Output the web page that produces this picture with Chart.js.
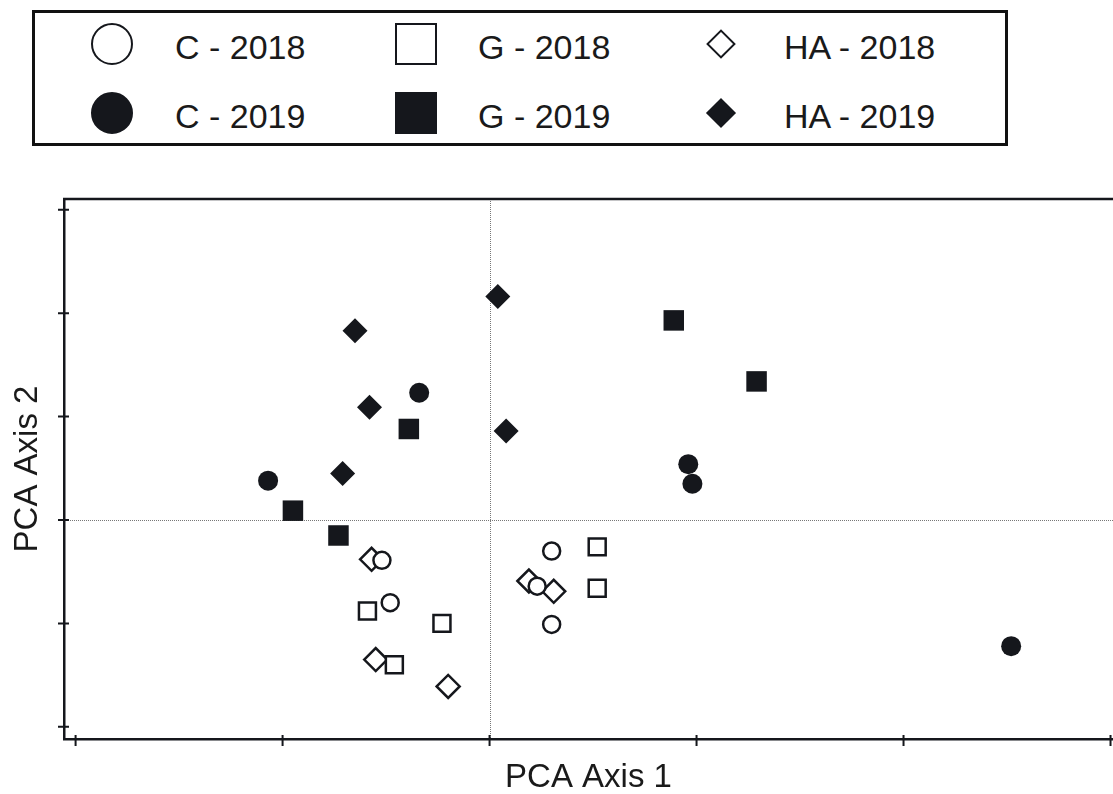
<!DOCTYPE html>
<html>
<head>
<meta charset="utf-8">
<script src="https://cdn.jsdelivr.net/npm/chart.js@4.4.1/dist/chart.umd.min.js"></script>
<style>
  html, body { margin: 0; padding: 0; overflow: hidden; background: #fff; font-family: "Liberation Sans", Arial, sans-serif; }
  #wrap { position: relative; width: 1113px; height: 794px; overflow: hidden; }
  #legend {
    position: absolute; left: 32px; top: 10px; width: 976px; height: 136px;
    box-sizing: border-box; border: 3px solid #111; background: #fff;
  }
  .label { position: absolute; font-size: 34px; line-height: 34px; color: #1a1a1a; white-space: nowrap; transform: translateY(-50%); }
  .mk { position: absolute; box-sizing: border-box; transform: translate(-50%, -50%); }
  .circle { width: 42px; height: 42px; border-radius: 50%; border: 2.5px solid #15171c; }
  .square { width: 42px; height: 42px; border: 2.5px solid #15171c; }
  .diamond { width: 21px; height: 21px; border: 2.5px solid #15171c; transform: translate(-50%, -50%) rotate(45deg); }
  .filled { background: #15171c; }
  canvas { position: absolute; left: 0; top: 0; }
</style>
</head>
<body>
<div id="wrap">
  <canvas id="pca"></canvas>
  <div id="legend"></div>
</div>
<script>
// PCA scores, [axis1, axis2]
const c2018 = [[-0.52, -0.39], [-0.48, -0.80], [0.30, -0.30], [0.23, -0.64], [0.30, -1.01]];
const c2019 = [[-1.07, 0.38], [-0.34, 1.23], [0.96, 0.54], [0.98, 0.35], [2.52, -1.22]];
const g2018 = [[-0.59, -0.88], [-0.23, -1.00], [-0.46, -1.40], [0.52, -0.26], [0.52, -0.66]];
const g2019 = [[-0.95, 0.09], [-0.73, -0.15], [-0.39, 0.88], [0.89, 1.93], [1.29, 1.34]];
const ha2018 = [[-0.57, -0.38], [-0.55, -1.35], [-0.20, -1.61], [0.19, -0.59], [0.31, -0.69]];
const ha2019 = [[-0.65, 1.83], [-0.58, 1.09], [-0.71, 0.45], [0.04, 2.16], [0.08, 0.86]];

const xTicks = [-2, -1, 0, 1, 2, 3];
const yTicks = [-2, -1, 0, 1, 2, 3];

const INK = "#15171c";
const toPts = arr => arr.map(p => ({ x: p[0], y: p[1] }));

const series = [
  { label: "C - 2018", data: c2018, style: "circle", r: 8.5, open: true },
  { label: "G - 2018", data: g2018, style: "rect", r: 12, open: true },
  { label: "HA - 2018", data: ha2018, style: "rectRot", r: 11.5, open: true },
  { label: "C - 2019", data: c2019, style: "circle", r: 10, open: false },
  { label: "G - 2019", data: g2019, style: "rect", r: 14.5, open: false },
  { label: "HA - 2019", data: ha2019, style: "rectRot", r: 12.5, open: false },
];

// legend (3 columns x 2 rows)
const legendCols = [
  { mx: 77, tx: 140, cls: "circle" },
  { mx: 381, tx: 443, cls: "square" },
  { mx: 686, tx: 749, cls: "diamond" },
];
const legendRows = [{ my: 31, ty: 34 }, { my: 100, ty: 103 }];
const legend = document.getElementById("legend");
series.forEach((s, i) => {
  const col = legendCols[i % 3], row = legendRows[Math.floor(i / 3)];
  const mk = document.createElement("div");
  mk.className = "mk " + col.cls + (s.open ? "" : " filled");
  mk.style.left = col.mx + "px";
  mk.style.top = row.my + "px";
  legend.appendChild(mk);
  const lb = document.createElement("div");
  lb.className = "label";
  lb.textContent = s.label;
  lb.style.left = col.tx + "px";
  lb.style.top = row.ty + "px";
  legend.appendChild(lb);
});

const axisDeco = {
  id: "axisDeco",
  beforeDatasetsDraw(chart) {
    const { ctx, chartArea: a, scales: { x, y } } = chart;
    ctx.save();
    ctx.strokeStyle = "#777";
    ctx.lineWidth = 1;
    ctx.setLineDash([1, 1]);
    const x0 = Math.round(x.getPixelForValue(0)) + 0.5;
    const y0 = Math.round(y.getPixelForValue(0)) + 0.5;
    ctx.beginPath();
    ctx.moveTo(x0, a.top); ctx.lineTo(x0, a.bottom);
    ctx.moveTo(a.left, y0); ctx.lineTo(a.right, y0);
    ctx.stroke();
    ctx.restore();
  },
  afterDraw(chart) {
    const { ctx, chartArea: a, scales: { x, y } } = chart;
    ctx.save();
    ctx.strokeStyle = INK;
    ctx.lineWidth = 2.5;
    ctx.beginPath();
    ctx.moveTo(a.left - 1, a.top); ctx.lineTo(a.right, a.top);
    ctx.stroke();
    ctx.lineWidth = 2;
    ctx.beginPath();
    xTicks.forEach(v => {
      const px = Math.min(x.getPixelForValue(v), a.right - 1.5);
      ctx.moveTo(px, a.bottom - 4); ctx.lineTo(px, a.bottom + 7);
    });
    yTicks.forEach(v => {
      const py = y.getPixelForValue(v);
      ctx.moveTo(a.left - 6, py); ctx.lineTo(a.left + 5, py);
    });
    ctx.stroke();
    ctx.restore();
  }
};

const titleFont = { family: "'Liberation Sans', Arial, sans-serif", size: 33, lineHeight: 1 };

new Chart(document.getElementById("pca"), {
  type: "scatter",
  data: {
    datasets: series.map(s => ({
      label: s.label,
      data: toPts(s.data),
      pointStyle: s.style,
      pointRadius: s.r,
      pointHoverRadius: s.r,
      backgroundColor: s.open ? "#fff" : INK,
      borderColor: INK,
      borderWidth: s.open ? 2.5 : 0,
    })),
  },
  options: {
    responsive: true,
    maintainAspectRatio: false,
    animation: false,
    layout: { autoPadding: false, padding: { top: 199, right: 0, bottom: 0, left: 0 } },
    plugins: { legend: { display: false }, tooltip: { enabled: false } },
    scales: {
      x: {
        type: "linear",
        min: -2.056,
        max: 3.012,
        ticks: { display: false },
        grid: { display: false, drawTicks: false },
        border: { display: true, color: INK, width: 2.5 },
        title: { display: true, text: "PCA Axis 1", color: "#1a1a1a", font: titleFont, padding: 0 },
        afterFit: s => { s.height = 55; },
      },
      y: {
        type: "linear",
        min: -2.118,
        max: 3.104,
        ticks: { display: false },
        grid: { display: false, drawTicks: false },
        border: { display: true, color: INK, width: 2.5 },
        title: { display: true, text: "PCA Axis 2", color: "#1a1a1a", font: titleFont, padding: { top: 11, bottom: 0 } },
        afterFit: s => { s.width = 64; },
      },
    },
  },
  plugins: [axisDeco],
});
</script>
</body>
</html>
